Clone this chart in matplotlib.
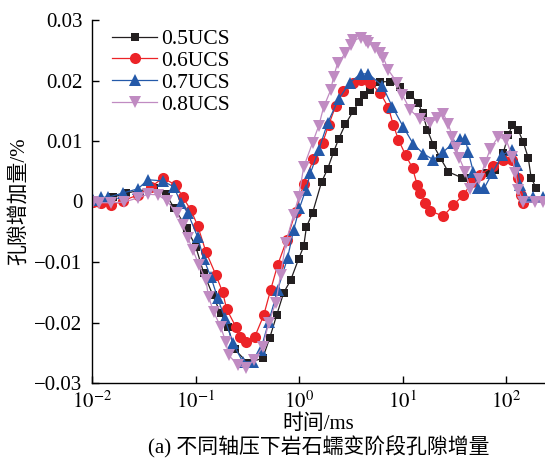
'''
Pore increment during rock creep under different axial loads
'''
import numpy as np
import matplotlib as mpl
mpl.use('Agg')
import matplotlib.pyplot as plt
from matplotlib.ticker import FixedLocator, FixedFormatter, NullLocator

mpl.rcParams['font.family'] = ['Liberation Serif', 'Noto Sans CJK SC']
mpl.rcParams['mathtext.fontset'] = 'stix'
mpl.rcParams['axes.unicode_minus'] = True

# -- data (time in ms, pore increment in %) --
t_05 = [0.0102, 0.0122, 0.016, 0.0213, 0.0396, 0.0518, 0.0618, 0.0824, 0.1007, 0.120,
        0.147, 0.175, 0.205, 0.239, 0.319, 0.446, 0.520, 0.608, 0.710, 0.830,
        0.991, 1.11, 1.18, 1.35, 1.65, 1.89, 2.16, 2.41, 2.81, 3.36,
        3.76, 4.20, 4.90, 6.12, 7.64, 9.55, 11.9, 14.2, 15.6, 17.4,
        19.9, 23.2, 27.7, 37.8, 45.2, 54.0, 65.9, 78.7, 94.0, 105,
        115, 131, 147, 164, 175, 196]
v_05 = [0, 0, 0.0007, 0.0014, 0.0022, 0.0012, -0.0010, -0.0044, -0.0075, -0.0118,
        -0.0155, -0.0185, -0.0207, -0.0244, -0.0267, -0.0259, -0.0226, -0.0188, -0.0151, -0.0130,
        -0.0095, -0.0074, -0.0042, -0.0019, 0.0032, 0.0054, 0.0082, 0.0103, 0.0128, 0.0150,
        0.0164, 0.0176, 0.0184, 0.0198, 0.0198, 0.0189, 0.0176, 0.0163, 0.0146, 0.0118,
        0.0093, 0.0072, 0.0049, 0.0039, 0.0039, 0.0042, 0.0047, 0.0052, 0.0080, 0.0110,
        0.0126, 0.0118, 0.0098, 0.0072, 0.0039, 0.0022]

t_06 = [0.0102, 0.0122, 0.0152, 0.0199, 0.0278, 0.0371, 0.0484, 0.0646, 0.0755, 0.0901,
        0.105, 0.126, 0.157, 0.183, 0.200, 0.245, 0.267, 0.305, 0.373, 0.456,
        0.532, 0.622, 0.759, 0.927, 1.11, 1.38, 1.69, 1.93, 2.26, 2.69,
        3.29, 3.93, 4.90, 6.12, 7.31, 8.17, 9.13, 10.7, 12.5, 13.9,
        14.9, 16.6, 18.6, 24.8, 31.0, 38.7, 47.2, 56.4, 75.3, 94.0,
        115, 131, 140, 147]
v_06 = [-0.0001, -0.0002, -0.0006, 0.0001, 0.0011, 0.0024, 0.0039, 0.0027, 0.0007, -0.0014,
        -0.0040, -0.0083, -0.0121, -0.0150, -0.0178, -0.0207, -0.0224, -0.0232, -0.0224, -0.0188,
        -0.0146, -0.0105, -0.0064, -0.0017, 0.0029, 0.0070, 0.0097, 0.0126, 0.0158, 0.0183,
        0.0196, 0.0201, 0.0196, 0.0179, 0.0155, 0.0126, 0.0102, 0.0077, 0.0055, 0.0027,
        0.0014, -0.0002, -0.0016, -0.0024, -0.0006, 0.0011, 0.0032, 0.0044, 0.0059, 0.0069,
        0.0069, 0.0039, 0.0011, -0.0002]

t_07 = [0.0102, 0.0122, 0.0143, 0.0199, 0.0278, 0.0347, 0.0484, 0.0618, 0.0721, 0.0843,
        0.105, 0.120, 0.141, 0.164, 0.192, 0.229, 0.286, 0.357, 0.427, 0.509,
        0.622, 0.776, 0.887, 1.01, 1.16, 1.29, 1.55, 1.89, 2.41, 3.08,
        3.93, 4.69, 6.40, 8.00, 10.2, 12.7, 15.9, 19.9, 24.8, 31.0,
        36.2, 40.4, 43.2, 48.3, 54.0, 61.6, 73.6, 91.9, 115, 128,
        137, 153, 183, 228]
v_07 = [0.0002, 0.0007, 0.0007, 0.0014, 0.0021, 0.0036, 0.0034, 0.0024, -0.0002, -0.0019,
        -0.0059, -0.0095, -0.0125, -0.0160, -0.0193, -0.0234, -0.0265, -0.0265, -0.0245, -0.0199,
        -0.0146, -0.0093, -0.0047, -0.0011, 0.0019, 0.0047, 0.0085, 0.0130, 0.0169, 0.0196,
        0.0211, 0.0211, 0.0191, 0.0156, 0.0123, 0.0095, 0.0079, 0.0069, 0.0082, 0.0097,
        0.0103, 0.0103, 0.0082, 0.0049, 0.0022, 0.0022, 0.0047, 0.0077, 0.0085, 0.0060,
        0.0027, 0.0007, 0.0007, 0.0007]

t_08 = [0.0102, 0.0117, 0.0152, 0.0204, 0.0278, 0.0347, 0.0433, 0.0529, 0.066, 0.0755,
        0.0843, 0.0942, 0.108, 0.126, 0.134, 0.150, 0.175, 0.196, 0.209, 0.256,
        0.305, 0.365, 0.446, 0.509, 0.594, 0.665, 0.743, 0.887, 0.991, 1.11,
        1.35, 1.55, 1.73, 2.02, 2.16, 2.36, 2.81, 3.15, 3.36, 3.93,
        4.39, 4.69, 5.48, 6.12, 6.55, 7.31, 8.93, 9.98, 11.9, 14.9,
        18.6, 21.7, 24.8, 27.7, 30.3, 33.1, 35.4, 40.4, 45.2, 55.2,
        63.0, 70.4, 84.1, 100.4, 115, 123, 131, 147, 191, 228]
v_08 = [-0.0001, -0.0002, -0.0002, -0.0001, 0.0006, 0.0012, 0.0011, 0.0001, -0.0019, -0.0039,
        -0.0060, -0.0080, -0.0105, -0.0130, -0.0158, -0.0183, -0.0207, -0.0232, -0.0254, -0.0270,
        -0.0275, -0.0262, -0.0240, -0.0201, -0.0168, -0.0121, -0.0069, -0.0022, 0.0007, 0.0057,
        0.0097, 0.0125, 0.0156, 0.0184, 0.0206, 0.0229, 0.0245, 0.0259, 0.0267, 0.0270,
        0.0265, 0.0262, 0.0254, 0.0245, 0.0237, 0.0217, 0.0196, 0.0176, 0.0151, 0.0136,
        0.0130, 0.0138, 0.0145, 0.0128, 0.0107, 0.0088, 0.0072, 0.0049, 0.0021, 0.0037,
        0.0064, 0.0087, 0.0107, 0.0102, 0.0074, 0.0047, 0.0019, -0.0001, -0.0001, -0.0001]

labels = ['0.5UCS', '0.6UCS', '0.7UCS', '0.8UCS']
y_ticks = [-0.03, -0.02, -0.01, 0, 0.01, 0.02, 0.03]
y_ticklabels = ['\u22120.03', '\u22120.02', '\u22120.01', '0', '0.01', '0.02', '0.03']
x_ticks = [1e-2, 1e-1, 1e0, 1e1, 1e2]
x_ticklabels = [r'$10^{-2}$', r'$10^{-1}$', r'$10^{0}$', r'$10^{1}$', r'$10^{2}$']

fig = plt.figure(figsize=(5.45, 4.62), dpi=100)
sub = fig.add_axes([92/545., 1-383/462., 1-92/545., (383-20)/462.])

series = [(t_05, v_05), (t_06, v_06), (t_07, v_07), (t_08, v_08)]
colors = ['#231f20', '#ec2327', '#2459a9', '#c08bc2']
markers = ['s', 'o', '^', 'v']
msizes = [6.3, 8, 8, 8]
for (tt, vv), c, m, ms, lab in zip(series, colors, markers, msizes, labels):
    sub.plot(tt, vv, color=c, lw=0.9, marker=m, ms=ms, mew=0, label=lab)

sub.set_xscale('log')
sub.set_xlim([1e-2, 238.])
sub.set_ylim([-0.03, 0.03])
sub.xaxis.set_major_locator(FixedLocator(x_ticks))
sub.xaxis.set_major_formatter(FixedFormatter(x_ticklabels))
sub.xaxis.set_minor_locator(NullLocator())
sub.yaxis.set_major_locator(FixedLocator(y_ticks))
sub.yaxis.set_major_formatter(FixedFormatter(y_ticklabels))
sub.tick_params(direction='in', length=5, width=1, labelsize=15)
sub.tick_params(axis='x', pad=6)
sub.tick_params(axis='y', pad=7)
sub.spines['top'].set_visible(False)
sub.spines['right'].set_visible(False)
for s in ['left', 'bottom']:
    sub.spines[s].set_linewidth(1.)

sub.set_xlabel('时间/ms', fontsize=15, labelpad=1)
sub.set_ylabel('孔隙增加量/%', fontsize=15, labelpad=4)
fig.text((92 + 545) / 2. / 545., 1 - 447/462., '(a) 不同轴压下岩石蠕变阶段孔隙增量',
         fontsize=15, ha='center', va='center')

sub.legend(loc='upper left', bbox_to_anchor=(0.044, 0.975), frameon=False,
           fontsize=15.5, handlelength=2.1, handletextpad=0.2, labelspacing=0.08,
           borderpad=0, borderaxespad=0)

fig.savefig('out.png', dpi=100)
plt.close()
